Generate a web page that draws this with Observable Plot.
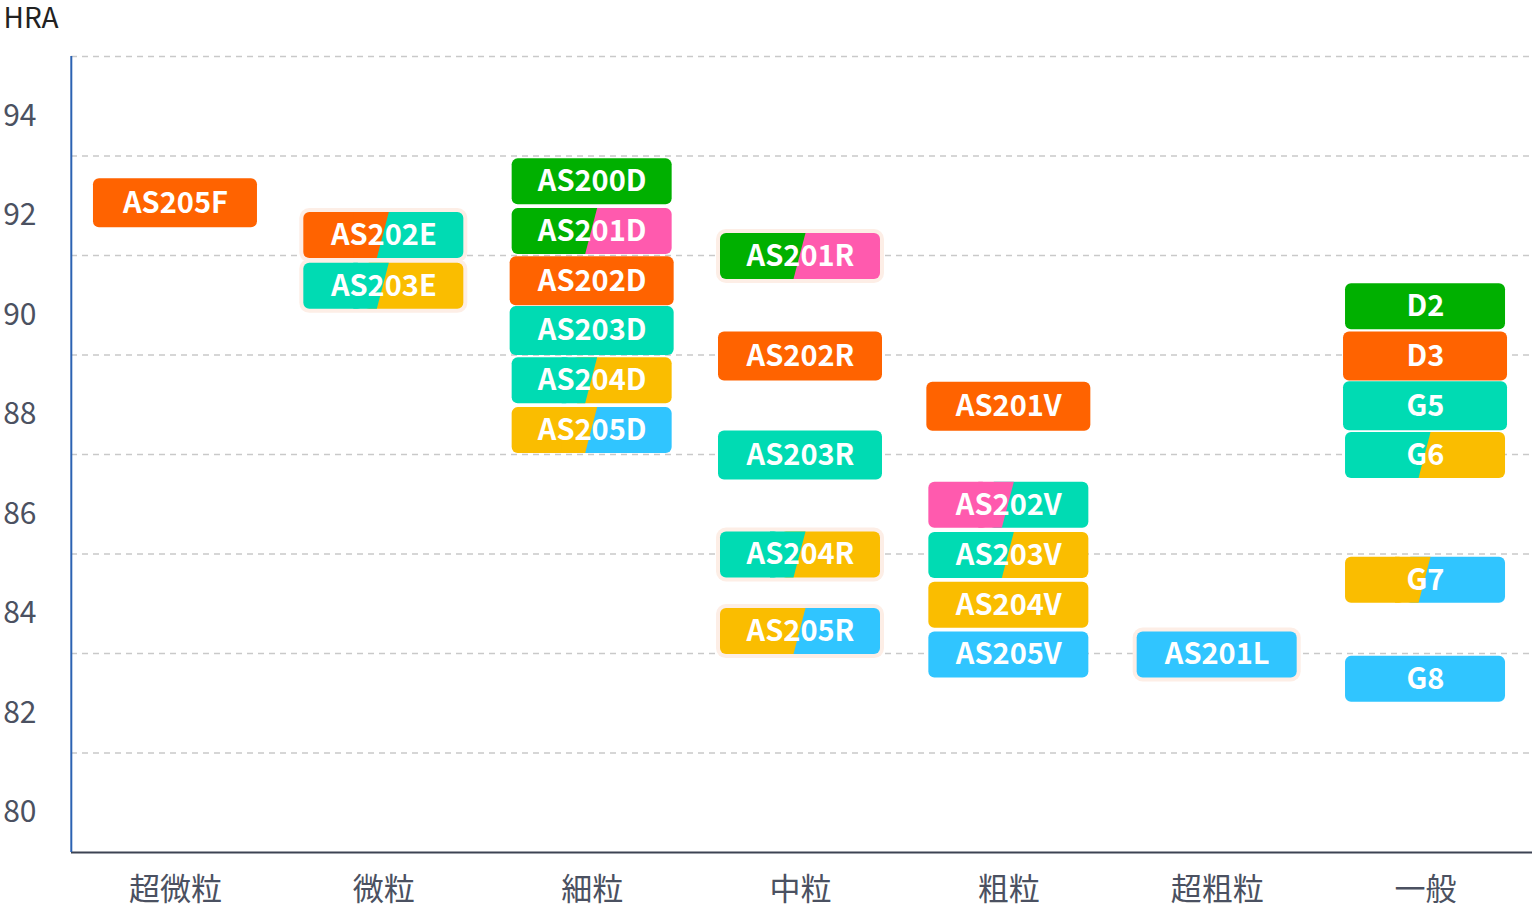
<!DOCTYPE html>
<html>
<head>
<meta charset="utf-8">
<script src="https://cdn.jsdelivr.net/npm/d3@7"></script>
<script src="https://cdn.jsdelivr.net/npm/@observablehq/plot@0.6"></script>
<style>
  html, body { margin: 0; padding: 0; background: #fff; }
  #chart svg { display: block; }
</style>
</head>
<body>
<div id="chart"></div>
<script>
// ---- data ----
const categories = ["超微粒", "微粒", "細粒", "中粒", "粗粒", "超粗粒", "一般"];
const grades = ["AS205F", "AS202E", "AS203E", "AS200D", "AS201D", "AS202D", "AS203D", "AS204D", "AS205D",
  "AS201R", "AS202R", "AS203R", "AS204R", "AS205R", "AS201V", "AS202V", "AS203V", "AS204V", "AS205V",
  "AS201L", "D2", "D3", "G5", "G6", "G7", "G8"];
const gradeCategory = ["超微粒", "微粒", "微粒", "細粒", "細粒", "細粒", "細粒", "細粒", "細粒",
  "中粒", "中粒", "中粒", "中粒", "中粒", "粗粒", "粗粒", "粗粒", "粗粒", "粗粒",
  "超粗粒", "一般", "一般", "一般", "一般", "一般", "一般"];
const gradeHRA = [92.05, 91.4, 90.38, 92.48, 91.48, 90.48, 89.48, 88.48, 87.48,
  90.98, 88.97, 86.98, 84.98, 83.44, 87.96, 85.98, 84.97, 83.97, 82.97,
  82.97, 89.97, 88.97, 87.97, 86.98, 84.47, 82.48];
// group keys for the left and right part of each label
const groupLeft = ["O", "O", "T", "G", "G", "O", "T", "T", "Y",
  "G", "O", "T", "T", "Y", "O", "P", "T", "Y", "B",
  "B", "G", "O", "T", "T", "Y", "B"];
const groupRight = ["O", "T", "Y", "G", "P", "O", "T", "Y", "B",
  "P", "O", "T", "Y", "B", "O", "T", "Y", "Y", "B",
  "B", "G", "O", "T", "Y", "B", "B"];
const groupKeys = ["G", "P", "O", "T", "Y", "B"];
const yTickValues = [80, 82, 84, 86, 88, 90, 92, 94];
const gridValues = [81, 83, 85, 87, 89, 91, 93, 95];

// ---- styling / layout ----
const W = 1532, H = 908, ML = 71, MR = 0, MT = 56, MB = 56;
const XR = [70.8, 1529.2];
const groupColors = ["#00b000", "#ff5aae", "#ff6300", "#00dbb3", "#fabd00", "#30c5ff"];
const featured = ["AS205F", "AS202D", "AS203D", "AS202R", "AS203R", "AS201V", "D3", "G5"];
const haloed = ["AS202E", "AS203E", "AS201R", "AS204R", "AS205R", "AS201L"];
const FONT = "'Noto Sans CJK JP', 'Noto Sans', sans-serif";
const ux = 7 / (XR[1] - XR[0]);     // x units per pixel
const uy = 16 / (H - MT - MB);      // y units per pixel

const rows = grades.map((g, i) => {
  const xc = categories.indexOf(gradeCategory[i]) + 0.5;
  const big = featured.includes(g);
  const hw = (big ? 82 : 80) * ux, hh = (big ? 24.5 : 23) * uy;
  return {grade: g, hra: gradeHRA[i], left: groupLeft[i], right: groupRight[i],
    xc, x1: xc - hw, x2: xc + hw, y1: gradeHRA[i] - hh, y2: gradeHRA[i] + hh};
});
const halos = rows.filter(d => haloed.includes(d.grade));
const split = rows.filter(d => d.left !== d.right);
const wedge = split.flatMap(d => [
  {grade: d.grade, left: d.left, y: d.y1, xa: d.xc - 30 * ux, xb: d.xc - 6.5 * ux},
  {grade: d.grade, left: d.left, y: d.y2, xa: d.xc - 30 * ux, xb: d.xc + 5.5 * ux}
]);

const chart = Plot.plot({
  width: W, height: H,
  marginLeft: ML, marginRight: MR, marginTop: MT, marginBottom: MB,
  style: {fontFamily: FONT, background: "#fff"},
  x: {domain: [0, 7], range: XR},
  y: {domain: [79, 95]},
  color: {domain: groupKeys, range: groupColors},
  marks: [
    Plot.gridY(gridValues, {stroke: "#c9c9c9", strokeOpacity: 1, strokeWidth: 1.5, strokeDasharray: "6,5"}),
    Plot.ruleY([79], {stroke: "#3c4353", strokeWidth: 2}),
    Plot.ruleX([0], {stroke: "#2b62b2", strokeWidth: 2}),
    Plot.axisY(yTickValues, {tickSize: 0, tickPadding: 35, dy: 10, fontSize: 30, color: "#4b5161",
      label: null, tickFormat: d => String(d)}),
    Plot.axisX(d3.range(0.5, 7, 1), {tickSize: 0, tickPadding: 25, tickFormat: d => categories[Math.floor(d)],
      fontSize: 31, color: "#4b5161", label: null}),
    Plot.text(["HRA"], {frameAnchor: "top-left", textAnchor: "start", lineAnchor: "middle",
      dx: -68, dy: -37, fontSize: 28, fill: "#222"}),
    Plot.rect(halos, {x1: "x1", x2: "x2", y1: "y1", y2: "y2", fill: "#fdeee6", inset: -4, rx: 10}),
    Plot.rect(rows, {x1: d => d.left === d.right ? d.x1 : d.xc - 20 * ux, x2: "x2", y1: "y1", y2: "y2",
      fill: "right", rx: 6}),
    Plot.rect(split, {x1: "x1", x2: d => d.xc - 20 * ux, y1: "y1", y2: "y2", fill: "left", rx: 6}),
    Plot.areaX(wedge, {y: "y", x1: "xa", x2: "xb", z: "grade", fill: "left", curve: "linear"}),
    Plot.text(rows, {x: "xc", y: "hra", text: "grade", fill: "white", fontSize: 29, fontWeight: "bold"})
  ]
});
document.getElementById("chart").appendChild(chart);
</script>
</body>
</html>
